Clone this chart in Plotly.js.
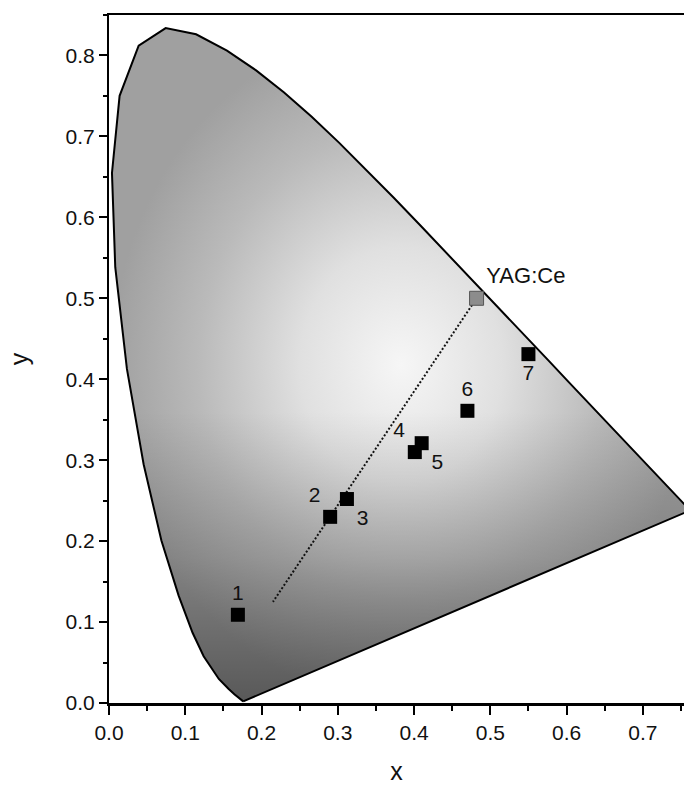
<!DOCTYPE html>
<html>
<head>
<meta charset="utf-8">
<script src="https://cdn.plot.ly/plotly-3.0.1.min.js"></script>
<style>html,body{margin:0;padding:0;background:#fff;}#chart{width:684px;height:785px;}</style>
</head>
<body>
<div id="chart"></div>
<script>
// CIE 1931 spectral locus outline as drawn in the reference (blue corner -> green -> red, closed by purple line)
const locusX = [0.176, 0.1714, 0.1689, 0.1644, 0.1566, 0.1440, 0.1241, 0.1096, 0.0913, 0.0687, 0.0454, 0.0235, 0.0082, 0.0039, 0.0139, 0.0389, 0.0743, 0.1142, 0.1547, 0.1929, 0.2296, 0.2658, 0.3016, 0.3373, 0.3731, 0.4087, 0.4441, 0.4788, 0.5125, 0.5448, 0.5752, 0.6029, 0.6270, 0.6658, 0.6915, 0.7190, 0.7620, 0.176];
const locusY = [0.002, 0.0051, 0.0069, 0.0109, 0.0177, 0.0297, 0.0578, 0.0868, 0.1327, 0.2007, 0.2950, 0.4127, 0.5384, 0.6548, 0.7502, 0.8120, 0.8338, 0.8262, 0.8059, 0.7816, 0.7543, 0.7243, 0.6923, 0.6589, 0.6245, 0.5896, 0.5547, 0.5202, 0.4866, 0.4544, 0.4242, 0.3965, 0.3725, 0.3340, 0.3083, 0.2809, 0.2380, 0.002];

// Samples
const sampleX = [0.169, 0.290, 0.312, 0.401, 0.410, 0.470, 0.550];
const sampleY = [0.109, 0.230, 0.252, 0.310, 0.321, 0.361, 0.431];
const sampleLabels = ['1', '2', '3', '4', '5', '6', '7'];

// YAG:Ce reference phosphor
const yagX = [0.482];
const yagY = [0.500];
const yagLabels = ['YAG:Ce'];

// Tie line from YAG:Ce towards the blue corner
const tieX = [0.482, 0.215];
const tieY = [0.500, 0.125];

const FONT = 'Liberation Sans, Arial, Helvetica, sans-serif';

const traces = [
  {
    x: locusX, y: locusY, type: 'scatter', mode: 'lines', fill: 'toself',
    line: {width: 0, color: 'rgba(0,0,0,0)'},
    fillgradient: {type: 'radial', colorscale: [[0, '#f6f6f6'], [0.35, '#e0e0e0'], [0.7, '#bababa'], [1, '#a0a0a0']]},
    hoverinfo: 'skip'
  },
  {
    x: locusX, y: locusY, type: 'scatter', mode: 'lines', fill: 'toself',
    line: {width: 2, color: '#000'},
    fillgradient: {type: 'vertical', start: 0, stop: 0.36, colorscale: [[0, 'rgba(0,0,0,0.45)'], [0.5, 'rgba(0,0,0,0.18)'], [1, 'rgba(0,0,0,0)']]},
    hoverinfo: 'skip'
  },
  {
    x: tieX, y: tieY, type: 'scatter', mode: 'lines',
    line: {width: 2, color: '#111', dash: '2px,2px'},
    hoverinfo: 'skip'
  },
  {
    x: yagX, y: yagY, text: yagLabels, type: 'scatter', mode: 'markers+text',
    marker: {symbol: 'square', size: 14, color: '#8c8c8c', line: {width: 1, color: '#555'}},
    textposition: 'top right',
    textfont: {family: FONT, size: 22, color: '#111'}
  },
  {
    x: sampleX, y: sampleY, text: sampleLabels, type: 'scatter', mode: 'markers+text',
    marker: {symbol: 'square', size: 14, color: '#000'},
    textposition: ['top center', 'top left', 'bottom right', 'top left', 'bottom right', 'top center', 'bottom center'],
    textfont: {family: FONT, size: 21, color: '#111'}
  }
];

const layout = {
  width: 684, height: 785,
  margin: {l: 109, r: 0, t: 15, b: 82},
  paper_bgcolor: '#fff', plot_bgcolor: '#fff',
  showlegend: false,
  font: {family: FONT, color: '#000'},
  xaxis: {
    range: [0, 0.754], tick0: 0, dtick: 0.1, tickformat: '.1f',
    ticks: 'outside', ticklen: 9, tickwidth: 2, tickcolor: '#000',
    minor: {tick0: 0, dtick: 0.05, ticks: 'outside', ticklen: 5, tickwidth: 2, tickcolor: '#000'},
    showline: true, linewidth: 2.5, linecolor: '#000', mirror: true,
    showgrid: false, zeroline: false,
    tickfont: {family: FONT, size: 21, color: '#111'},
    title: {text: 'x', font: {family: FONT, size: 25, color: '#111'}, standoff: 23}
  },
  yaxis: {
    range: [0, 0.85], tick0: 0, dtick: 0.1, tickformat: '.1f',
    ticks: 'outside', ticklen: 8, tickwidth: 2, tickcolor: '#000',
    minor: {tick0: 0, dtick: 0.05, ticks: 'outside', ticklen: 4, tickwidth: 2, tickcolor: '#000'},
    showline: true, linewidth: 2, linecolor: '#000', mirror: false,
    showgrid: false, zeroline: false,
    tickfont: {family: FONT, size: 21, color: '#111'},
    title: {text: 'y', font: {family: FONT, size: 25, color: '#111'}, standoff: 30}
  }
};

Plotly.newPlot('chart', traces, layout, {displayModeBar: false, staticPlot: true});
</script>
</body>
</html>
